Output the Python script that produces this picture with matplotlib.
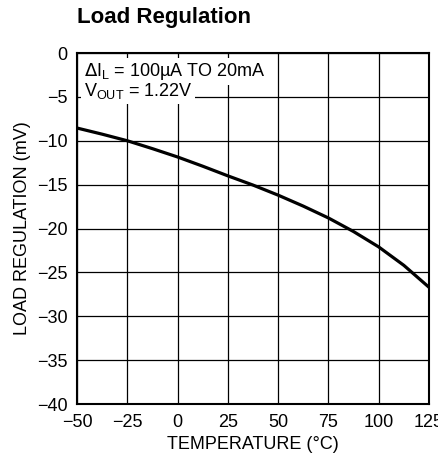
import numpy as np
import matplotlib
matplotlib.use('Agg')
import matplotlib.pyplot as plt

plt.rcParams['font.family'] = ['Liberation Sans', 'DejaVu Sans']

# valori
temperature = [-50, -37.5, -25, -12.5, 0, 12.5, 25, 37.5, 50, 62.5, 75, 87.5, 100, 112.5, 125]
load_reg = [-8.55, -9.25, -10.0, -10.9, -11.85, -12.9, -14.0, -15.05, -16.2,
            -17.45, -18.8, -20.35, -22.1, -24.2, -26.7]

x_ticks = [-50, -25, 0, 25, 50, 75, 100, 125]
x_labels = ['\u221250', '\u221225', '0', '25', '50', '75', '100', '125']
y_ticks = [0, -5, -10, -15, -20, -25, -30, -35, -40]
y_labels = ['0', '\u22125', '\u221210', '\u221215', '\u221220', '\u221225', '\u221230', '\u221235', '\u221240']

fig = plt.figure(figsize=(4.39, 4.61), dpi=100)
ax = fig.add_axes([77 / 439, 1 - 404 / 461, 352 / 439, 351 / 461])

ax.plot(temperature, load_reg, color='black', lw=2.3, solid_capstyle='butt', zorder=3)

ax.set_xlim(-50, 125)
ax.set_ylim(-40, 0)
ax.set_xticks(x_ticks)
ax.set_xticklabels(x_labels, fontsize=13)
ax.set_yticks(y_ticks)
ax.set_yticklabels(y_labels, fontsize=13)
ax.tick_params(axis='x', length=0, pad=7)
ax.tick_params(axis='y', length=0, pad=7)
ax.grid(True, color='black', lw=0.9)
for s in ax.spines.values():
    s.set_linewidth(1.5)

ax.set_xlabel('TEMPERATURE (\u00b0C)', fontsize=13, labelpad=4)
ax.set_ylabel('LOAD REGULATION (mV)', fontsize=13, labelpad=4)

fig.text(77 / 439, 1 - 18 / 461, 'Load Regulation', fontsize=16, fontweight='bold',
         ha='left', va='center')

# condizioni di prova: prima i riquadri bianchi, poi il testo sopra
notes = ['$\\Delta$I$_\\mathregular{L}$ = 100\u00b5A TO 20mA', 'V$_\\mathregular{OUT}$ = 1.22V']
note_y = [-2.1, -4.35]
for txt, yy in zip(notes, note_y):
    ax.text(-46.5, yy, txt, fontsize=13, ha='left', va='center', color='white', zorder=4,
            bbox=dict(facecolor='white', edgecolor='none', pad=2))
for txt, yy in zip(notes, note_y):
    ax.text(-46.5, yy, txt, fontsize=13, ha='left', va='center', color='black', zorder=5)

fig.savefig('out.png', dpi=100)
